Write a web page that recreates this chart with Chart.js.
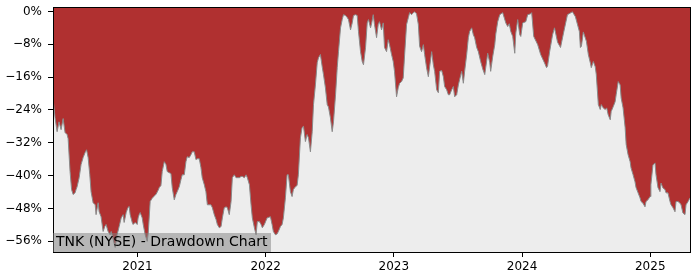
<!DOCTYPE html>
<html>
<head>
<meta charset="utf-8">
<script src="https://cdn.jsdelivr.net/npm/chart.js@4"></script>
<style>
  body { margin: 0; background: #fff; }
  #wrap { position: relative; width: 700px; height: 280px; }
  #dd-title {
    position: absolute; left: 53px; top: 233px; height: 19px; line-height: 19px;
    padding: 0 3px; background: rgba(128, 128, 128, 0.5);
    font: 14px "DejaVu Sans"; color: #000; white-space: nowrap;
  }
</style>
</head>
<body>
<div id="wrap">
  <canvas id="dd-chart" width="700" height="280"></canvas>
  <div id="dd-title">TNK (NYSE) - Drawdown Chart</div>
</div>

<script>
  // dates as decimal years, drawdown in %
  const dates2020 = [
    2020.341, 2020.357, 2020.373, 2020.388, 2020.404, 2020.420, 2020.435, 2020.451, 2020.459, 2020.474,
    2020.486, 2020.498, 2020.513, 2020.521, 2020.529, 2020.545, 2020.560, 2020.576, 2020.591, 2020.603,
    2020.615, 2020.628, 2020.638, 2020.654, 2020.670, 2020.677, 2020.693, 2020.701, 2020.716, 2020.732,
    2020.745, 2020.755, 2020.771, 2020.787, 2020.795, 2020.810, 2020.826, 2020.841, 2020.857, 2020.873,
    2020.888, 2020.896, 2020.912, 2020.925, 2020.935, 2020.943, 2020.959, 2020.966, 2020.982, 2020.998
  ];
  const dd2020 = [
    -21.1, -25.9, -29.3, -26.9, -28.8, -26.1, -29.5, -30, -31, -39,
    -43.4, -44.6, -44.2, -43.4, -42.7, -40.5, -37.3, -35.6, -34.4, -33.7,
    -35.6, -39.8, -43.9, -46.6, -47.1, -49.5, -46.6, -48.8, -50, -53.6,
    -52.4, -51.9, -53.6, -54.4, -53.6, -55.5, -57.5, -54.4, -52.4, -50.3,
    -49.5, -51.4, -49, -47.8, -47.5, -49.5, -51.4, -51.9, -51.4, -51.9
  ];

  const dates2021 = [
    2021.005, 2021.013, 2021.021, 2021.037, 2021.045, 2021.060, 2021.076, 2021.084, 2021.099, 2021.115,
    2021.130, 2021.146, 2021.162, 2021.170, 2021.183, 2021.193, 2021.209, 2021.222, 2021.232, 2021.248,
    2021.261, 2021.271, 2021.287, 2021.300, 2021.310, 2021.326, 2021.339, 2021.349, 2021.365, 2021.378,
    2021.388, 2021.404, 2021.417, 2021.427, 2021.443, 2021.456, 2021.466, 2021.482, 2021.495, 2021.505,
    2021.521, 2021.534, 2021.545, 2021.560, 2021.573, 2021.584, 2021.599, 2021.613, 2021.623, 2021.638,
    2021.652, 2021.662, 2021.677, 2021.691, 2021.701, 2021.716, 2021.730, 2021.740, 2021.755, 2021.769,
    2021.779, 2021.795, 2021.808, 2021.818, 2021.834, 2021.847, 2021.857, 2021.873, 2021.886, 2021.896,
    2021.912, 2021.925, 2021.935, 2021.951, 2021.964, 2021.974, 2021.990
  ];
  const dd2021 = [
    -50.3, -49.5, -49, -50.3, -51.9, -54.4, -56, -54, -46.3, -45.5,
    -45, -44.5, -43.5, -42.9, -42.4, -39, -36.6, -37.3, -39, -39.3,
    -39.5, -42.9, -45.9, -44.6, -43.9, -42.7, -41, -39.8, -39.8, -36.6,
    -35.4, -35.6, -34.9, -34.2, -34.2, -36.1, -35.9, -35.9, -38, -40.5,
    -42.2, -43.9, -47.1, -47.1, -47.1, -47.8, -49.5, -50.7, -51.9, -52.7,
    -52.4, -50.3, -47.8, -47.6, -47.8, -49.5, -46.3, -40.5, -39.8, -40.5,
    -40.5, -40.5, -40.2, -40.2, -40.5, -39.8, -40.5, -42.2, -47.1, -50.3,
    -52.7, -54.4, -51.2, -51.2, -51.9, -52.7, -51.9
  ];

  const dates2022 = [
    2022.011, 2022.037, 2022.050, 2022.060, 2022.076, 2022.089, 2022.099, 2022.115, 2022.128, 2022.138,
    2022.154, 2022.167, 2022.177, 2022.193, 2022.206, 2022.216, 2022.232, 2022.245, 2022.255, 2022.271,
    2022.284, 2022.295, 2022.310, 2022.323, 2022.334, 2022.349, 2022.363, 2022.373, 2022.388, 2022.402,
    2022.412, 2022.427, 2022.441, 2022.451, 2022.466, 2022.480, 2022.490, 2022.505, 2022.519, 2022.529,
    2022.545, 2022.558, 2022.568, 2022.584, 2022.597, 2022.607, 2022.623, 2022.636, 2022.646, 2022.662,
    2022.675, 2022.685, 2022.701, 2022.714, 2022.724, 2022.740, 2022.753, 2022.763, 2022.779, 2022.792,
    2022.802, 2022.818, 2022.826, 2022.839, 2022.849, 2022.865, 2022.878, 2022.888, 2022.904, 2022.917,
    2022.927, 2022.943, 2022.956, 2022.966, 2022.982, 2022.995
  ];
  const dd2022 = [
    -50.3, -50, -51.9, -53.6, -54.4, -54.2, -53.6, -52.4, -51.9, -50.3,
    -45.4, -39.8, -39.8, -43.9, -45.1, -43.4, -42.7, -42.4, -39.8, -30.8,
    -28.3, -28, -31.7, -30, -30.8, -34.2, -29.3, -22.7, -17.9, -12.5,
    -11.3, -10.5, -13.5, -15.4, -18.6, -22.7, -23.3, -25.9, -29.3, -26.9,
    -20.3, -13.7, -9.8, -4, -2, -0.8, -1, -1.5, -2, -4.5,
    -2.8, -1, -0.8, -1, -4.9, -9.8, -12.2, -13, -8.8, -2.8,
    -2, -4, -3, -0.8, -3.2, -6.4, -3.2, -2.5, -4.5, -2.8,
    -8.8, -9.8, -6.9, -8.1, -10.5, -12.2
  ];

  const dates2023 = [
    2023.005, 2023.021, 2023.034, 2023.045, 2023.060, 2023.073, 2023.084, 2023.099, 2023.113, 2023.123,
    2023.138, 2023.152, 2023.162, 2023.177, 2023.191, 2023.201, 2023.216, 2023.230, 2023.240, 2023.255,
    2023.269, 2023.279, 2023.295, 2023.308, 2023.318, 2023.334, 2023.347, 2023.357, 2023.373, 2023.386,
    2023.396, 2023.412, 2023.425, 2023.435, 2023.451, 2023.464, 2023.474, 2023.490, 2023.503, 2023.513,
    2023.529, 2023.542, 2023.552, 2023.568, 2023.581, 2023.591, 2023.607, 2023.620, 2023.630, 2023.646,
    2023.659, 2023.677, 2023.693, 2023.709, 2023.732, 2023.748, 2023.755, 2023.771, 2023.787, 2023.795,
    2023.810, 2023.826, 2023.849, 2023.873, 2023.888, 2023.900, 2023.912, 2023.927, 2023.943, 2023.951,
    2023.966, 2023.982, 2023.990
  ];
  const dd2023 = [
    -14.6, -20.8, -18.6, -17.5, -17.1, -16.2, -10.5, -3.2, -1.5, -0.3,
    -0.8, -0.3, -0.1, -0.6, -3.2, -8.5, -9.8, -8.1, -10.5, -13.7,
    -15.9, -13.5, -9.8, -13, -14.6, -19.1, -19.8, -14.6, -14.4, -15.9,
    -18.3, -19.1, -20.3, -20.3, -19.1, -18.3, -20.8, -20.3, -17.9, -16.6,
    -14.6, -17.5, -14.6, -10.5, -6.4, -4.9, -4, -5.7, -6.4, -8.8,
    -9.8, -12.2, -14, -15.4, -10.2, -12.5, -14.6, -11, -8.1, -5.5,
    -2.5, -0.8, -0.3, -2.8, -3.7, -3, -4.9, -6.1, -10.2, -5.3,
    -2, -5.7, -6.1
  ];

  const dates2024 = [
    2024.005, 2024.029, 2024.044, 2024.067, 2024.075, 2024.091, 2024.122, 2024.145, 2024.176, 2024.191,
    2024.199, 2024.215, 2024.238, 2024.253, 2024.277, 2024.300, 2024.323, 2024.354, 2024.393, 2024.416,
    2024.447, 2024.455, 2024.463, 2024.478, 2024.502, 2024.517, 2024.533, 2024.540, 2024.556, 2024.571,
    2024.579, 2024.595, 2024.610, 2024.618, 2024.633, 2024.649, 2024.660, 2024.672, 2024.688, 2024.695,
    2024.711, 2024.726, 2024.734, 2024.750, 2024.765, 2024.773, 2024.788, 2024.804, 2024.812, 2024.827,
    2024.843, 2024.850, 2024.866, 2024.881, 2024.889, 2024.905, 2024.920, 2024.928, 2024.943, 2024.959,
    2024.967, 2024.982, 2024.998
  ];
  const dd2024 = [
    -2.8, -2.5, -0.8, -0.6, -0.3, -6.1, -8.1, -10.5, -12.6, -13.7,
    -13.3, -9.8, -5.7, -4, -7.5, -8.8, -5.3, -0.8, -0.1, -1.3,
    -4.9, -8.8, -8.5, -5, -7.3, -10.5, -12.6, -13.7, -12.2, -13.5,
    -15.4, -22.7, -23.9, -22.7, -23.5, -23.9, -23.5, -25.2, -26.4, -24.4,
    -23.2, -22, -20.3, -17.1, -17.9, -21.1, -23.5, -28.3, -32.4, -34.9,
    -36.6, -38.1, -39.8, -41.5, -42.9, -44.2, -45.4, -46.3, -46.7, -47.6,
    -46.3, -45.9, -45.1
  ];

  const dates2025 = [
    2025.005, 2025.021, 2025.037, 2025.045, 2025.060, 2025.076, 2025.084, 2025.099, 2025.115, 2025.123,
    2025.138, 2025.154, 2025.162, 2025.177, 2025.193, 2025.201, 2025.216, 2025.232, 2025.240, 2025.255,
    2025.271, 2025.279, 2025.295, 2025.310
  ];
  const dd2025 = [
    -42.2, -37.4, -36.9, -39.8, -42.9, -43.9, -41.8, -43, -43.4, -44.2,
    -44.2, -46.3, -47.1, -47.8, -48.8, -46.3, -46.3, -46.7, -47.1, -49.1,
    -49.5, -47.1, -46.3, -45.4
  ];

  const yearTicks = [2021, 2022, 2023, 2024, 2025];
  const pctTicks = [0, -8, -16, -24, -32, -40, -48, -56];

  const dates = [].concat(dates2020, dates2021, dates2022, dates2023, dates2024, dates2025);
  const drawdown = [].concat(dd2020, dd2021, dd2022, dd2023, dd2024, dd2025);

  function initDrawdownChart() {
    const ctx = document.getElementById('dd-chart').getContext('2d');

    // grey plot background + black frame round the plot
    const frame = {
      id: 'frame',
      beforeDraw(chart) {
        const a = chart.chartArea;
        const c = chart.ctx;
        c.save();
        c.fillStyle = '#ededed';
        c.fillRect(a.left, a.top, a.right - a.left, a.bottom - a.top);
        c.restore();
      },
      afterDraw(chart) {
        const a = chart.chartArea;
        const c = chart.ctx;
        c.save();
        c.strokeStyle = '#000';
        c.lineWidth = 1;
        c.strokeRect(a.left + 0.5, a.top + 0.5, a.right - a.left, a.bottom - a.top);
        c.restore();
      }
    };

    const tickFont = { family: 'DejaVu Sans', size: 12 };

    new Chart(ctx, {
      type: 'line',
      data: {
        datasets: [{
          data: dates.map((t, i) => ({ x: t, y: drawdown[i] })),
          borderColor: '#8a8a8a',
          borderWidth: 1,
          backgroundColor: '#b03030',
          fill: 'end',
          pointRadius: 0,
          tension: 0
        }]
      },
      options: {
        responsive: false,
        animation: false,
        layout: { padding: { top: 7, right: 10, left: 0, bottom: 0 } },
        plugins: { legend: { display: false }, tooltip: { enabled: false } },
        scales: {
          x: {
            type: 'linear',
            min: 2020.341,
            max: 2025.31,
            afterBuildTicks: (s) => { s.ticks = yearTicks.map(v => ({ value: v })); },
            afterFit: (s) => { s.height = 28; s.paddingLeft = 0; s.paddingRight = 0; },
            ticks: { callback: (v) => String(v), font: tickFont, color: '#000', padding: 3, maxRotation: 0 },
            grid: { drawOnChartArea: false, tickLength: 5, color: '#000' },
            border: { display: false }
          },
          y: {
            min: -58.6,
            max: 1.07,
            afterBuildTicks: (s) => { s.ticks = pctTicks.map(v => ({ value: v })); },
            afterFit: (s) => { s.width = 53; s.paddingTop = 0; s.paddingBottom = 0; },
            ticks: {
              callback: (v) => (v < 0 ? '\u2212' : '') + Math.abs(v) + '%',
              font: tickFont, color: '#000', padding: 6
            },
            grid: { drawOnChartArea: false, tickLength: 5, color: '#000' },
            border: { display: false }
          }
        }
      },
      plugins: [frame]
    });
  }

  requestAnimationFrame(initDrawdownChart);
</script>
</body>
</html>
